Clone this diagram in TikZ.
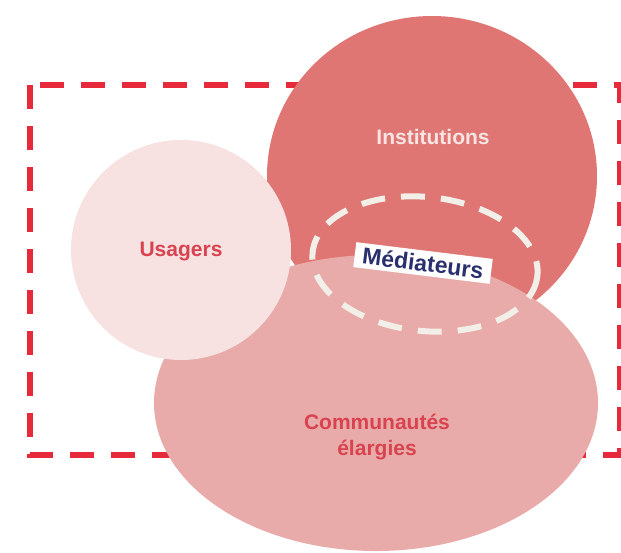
\documentclass[tikz,border=0pt]{standalone}
\usepackage{fontspec}
\setmainfont{Liberation Sans}
\begin{document}
\begin{tikzpicture}[
        x=1pt, y=-1pt,
        zonebox/.style={draw=zonered, line width=5.5pt, dash pattern=on 24pt off 17pt},
        instfill/.style={fill=instred},
        usafill/.style={fill=usapink},
        commfill/.style={fill=commpink},
        medring/.style={draw=ringwhite, line width=6pt, dash pattern=on 24pt off 16pt},
        biglabel/.style={font=\fontsize{21}{24}\selectfont\bfseries, align=center},
        medlabel/.style={fill=white, text=mednavy, inner xsep=8pt, inner ysep=4pt,
            font=\fontsize{23}{26}\selectfont\bfseries, rotate=-7}
    ]
    \definecolor{zonered}{HTML}{E62A3B}
    \definecolor{instred}{HTML}{DF7673}
    \definecolor{usapink}{HTML}{F7E1E1}
    \definecolor{commpink}{HTML}{E8ABAA}
    \definecolor{ringwhite}{HTML}{F2EFE8}
    \definecolor{mednavy}{HTML}{2A2F6E}
    \definecolor{usatext}{HTML}{D9434F}
    \definecolor{insttext}{HTML}{F8E4E2}

    \useasboundingbox (0,0) rectangle (621,552);

    % ==========================================
    % Outer zone (dashed frame)
    % ==========================================
    \draw[zonebox] (30,85) rectangle (620,455);

    % ==========================================
    % Circles: Institutions, Communautes, Usagers
    % ==========================================
    \fill[instfill] (432,176) ellipse [x radius=165, y radius=160];
    \fill[commfill] (376,403) ellipse [x radius=222, y radius=148];
    \fill[usafill] (181,250) circle [radius=110];

    \node[biglabel, text=insttext] (inst) at (433,137) {Institutions};
    \node[biglabel, text=usatext] (usa) at (181,251) {Usagers};
    \node[biglabel, text=usatext, text depth=0pt] (comm) at (377,435) {Communautés\\[2pt]élargies};

    % ==========================================
    % Mediateurs (dashed ring + label)
    % ==========================================
    \draw[medring, rotate around={-6:(425,264)}] (425,264) ellipse [x radius=113, y radius=67];
    \node[medlabel] (med) at (423,263) {Médiateurs};

\end{tikzpicture}
\end{document}
